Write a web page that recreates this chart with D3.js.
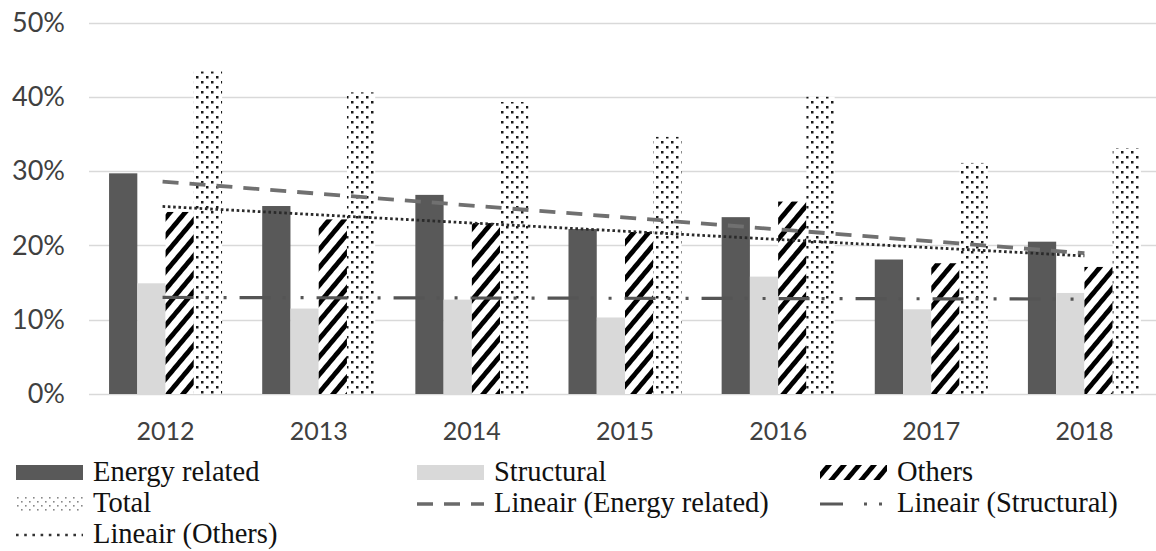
<!DOCTYPE html>
<html>
<head>
<meta charset="utf-8">
<script src="https://cdn.jsdelivr.net/npm/d3@7"></script>
<style>
  html, body { margin: 0; padding: 0; background: #fff; }
  svg { display: block; }
</style>
</head>
<body>
<svg id="chart" width="1156" height="551"></svg>
<script>
// ---- data ----
const years = ["2012", "2013", "2014", "2015", "2016", "2017", "2018"];
const energyRelated = [29.7, 25.3, 26.8, 22.2, 23.8, 18.1, 20.5];
const structural    = [14.9, 11.5, 12.7, 10.3, 15.8, 11.4, 13.6];
const others        = [24.5, 23.5, 23.0, 21.8, 25.9, 17.6, 17.1];
const total         = [43.4, 40.6, 39.3, 34.6, 40.0, 31.1, 33.1];
const yTicks = [0, 10, 20, 30, 40, 50];
const seriesNames = ["Energy related", "Structural", "Others", "Total"];
const legendLabels = ["Energy related", "Structural", "Others", "Total",
  "Lineair (Energy related)", "Lineair (Structural)", "Lineair (Others)"];

// ---- layout ----
const svg = d3.select("#chart");
const plot = { left: 89, right: 1161, top: 22.5, bottom: 394 };

const defs = svg.append("defs");
// diagonal stripes for "Others"
const stripes = defs.append("pattern")
  .attr("id", "stripes").attr("patternUnits", "userSpaceOnUse")
  .attr("width", 11.5).attr("height", 20)
  .attr("patternTransform", "rotate(40)");
stripes.append("rect").attr("width", 11.5).attr("height", 20).attr("fill", "#fff");
stripes.append("rect").attr("x", 0).attr("width", 4.8).attr("height", 20).attr("fill", "#000");
// dots for "Total"
const dots = defs.append("pattern")
  .attr("id", "dots").attr("patternUnits", "userSpaceOnUse")
  .attr("width", 10).attr("height", 10);
dots.append("rect").attr("width", 10).attr("height", 10).attr("fill", "#fff");
dots.append("rect").attr("x", 1).attr("y", 1).attr("width", 2.5).attr("height", 2.5).attr("fill", "#1a1a1a");
dots.append("rect").attr("x", 6).attr("y", 6).attr("width", 2.5).attr("height", 2.5).attr("fill", "#1a1a1a");
// light dots for legend
const dotsL = defs.append("pattern")
  .attr("id", "dotsL").attr("patternUnits", "userSpaceOnUse")
  .attr("width", 8).attr("height", 8);
dotsL.append("rect").attr("width", 8).attr("height", 8).attr("fill", "#fff");
dotsL.append("rect").attr("x", 1).attr("y", 1).attr("width", 1.6).attr("height", 1.6).attr("fill", "#888");
dotsL.append("rect").attr("x", 5).attr("y", 5).attr("width", 1.6).attr("height", 1.6).attr("fill", "#888");

const fills = ["#595959", "#d9d9d9", "url(#stripes)", "url(#dots)"];
const seriesData = [energyRelated, structural, others, total];

const x = d3.scaleBand().domain(years).range([plot.left, plot.right])
  .paddingInner(0.262).paddingOuter(0.131);
const xs = d3.scaleBand().domain(seriesNames).range([0, x.bandwidth()]).padding(0);
const y = d3.scaleLinear().domain([0, 50]).range([plot.bottom, plot.top]);

// gridlines
svg.append("g").selectAll("line").data(yTicks).join("line")
  .attr("x1", plot.left).attr("x2", 1156)
  .attr("y1", d => Math.round(y(d)) + 0.5).attr("y2", d => Math.round(y(d)) + 0.5)
  .attr("stroke", "#d9d9d9").attr("stroke-width", 1.3);

// y axis labels
const yAxis = d3.axisLeft(y).tickValues(yTicks).tickFormat(d => d + "%").tickSize(0).tickPadding(0);
const gy = svg.append("g").attr("transform", "translate(65,0)").call(yAxis);
gy.select(".domain").remove();
gy.selectAll("text").attr("font-family", "Lato, 'Open Sans', sans-serif")
  .attr("font-size", 27).attr("fill", "#404040");

// x axis labels
const xAxis = d3.axisBottom(x).tickSize(0).tickPadding(0);
const gx = svg.append("g").attr("transform", "translate(0,420)").call(xAxis);
gx.select(".domain").remove();
gx.selectAll("text").attr("font-family", "Lato, 'Open Sans', sans-serif")
  .attr("font-size", 25).attr("fill", "#404040").attr("dy", "0.78em");

// bars
seriesData.forEach((vals, si) => {
  svg.append("g").selectAll("rect").data(vals).join("rect")
    .attr("x", (d, i) => x(years[i]) + xs(seriesNames[si]))
    .attr("width", xs.bandwidth())
    .attr("y", d => y(d))
    .attr("height", d => y(0) - y(d))
    .attr("fill", fills[si]);
});

// linear trendlines (least squares on the data)
function trend(vals) {
  const n = vals.length, xm = (n - 1) / 2, ym = d3.mean(vals);
  let num = 0, den = 0;
  vals.forEach((v, i) => { num += (i - xm) * (v - ym); den += (i - xm) * (i - xm); });
  const b = num / den, a = ym - b * xm;
  return [a, a + b * (n - 1)];
}
const cx = i => x(years[i]) + x.bandwidth() / 2;
const trendStyles = [
  { vals: energyRelated, color: "#707070", w: 3.8, dash: "16 11", cap: "butt" },
  { vals: structural, color: "#555555", w: 3.2, dash: "31 12 3 15 3 13", cap: "butt" },
  { vals: others, color: "#2a2a2a", w: 2.8, dash: "2.6 2.7", cap: "butt" }
];
trendStyles.forEach(t => {
  const [v0, v1] = trend(t.vals);
  svg.append("line")
    .attr("x1", cx(0) - 3).attr("x2", cx(years.length - 1))
    .attr("y1", y(v0)).attr("y2", y(v1))
    .attr("stroke", t.color).attr("stroke-width", t.w)
    .attr("stroke-dasharray", t.dash).attr("stroke-linecap", t.cap);
});

// legend
const colX = [16, 417, 820];
const rowY = [472.5, 504, 535];
const symW = 67, symH = 15;
const legendItems = [
  { label: legendLabels[0], type: "rect", fill: "#595959" },
  { label: legendLabels[1], type: "rect", fill: "#d9d9d9" },
  { label: legendLabels[2], type: "rect", fill: "url(#stripes)" },
  { label: legendLabels[3], type: "rect", fill: "url(#dotsL)" },
  { label: legendLabels[4], type: "line", color: "#6a6a6a", w: 3.6, dash: "16 11" },
  { label: legendLabels[5], type: "line", color: "#595959", w: 3.2, dash: "23 21 3 12 3 20" },
  { label: legendLabels[6], type: "line", color: "#333", w: 2.6, dash: "2.6 5.6" }
];
const lg = svg.append("g");
legendItems.forEach((it, i) => {
  const cxL = colX[i % 3], cyL = rowY[Math.floor(i / 3)];
  if (it.type === "rect") {
    lg.append("rect").attr("x", cxL).attr("y", cyL - symH / 2)
      .attr("width", symW).attr("height", symH).attr("fill", it.fill);
  } else {
    lg.append("line").attr("x1", cxL).attr("x2", cxL + symW)
      .attr("y1", cyL).attr("y2", cyL)
      .attr("stroke", it.color).attr("stroke-width", it.w)
      .attr("stroke-dasharray", it.dash);
  }
  lg.append("text").attr("x", cxL + symW + 10).attr("y", cyL + 8)
    .attr("font-family", "'Liberation Serif', 'Times New Roman', serif")
    .attr("font-size", 28.5).attr("fill", "#111")
    .text(it.label);
});
</script>
</body>
</html>
